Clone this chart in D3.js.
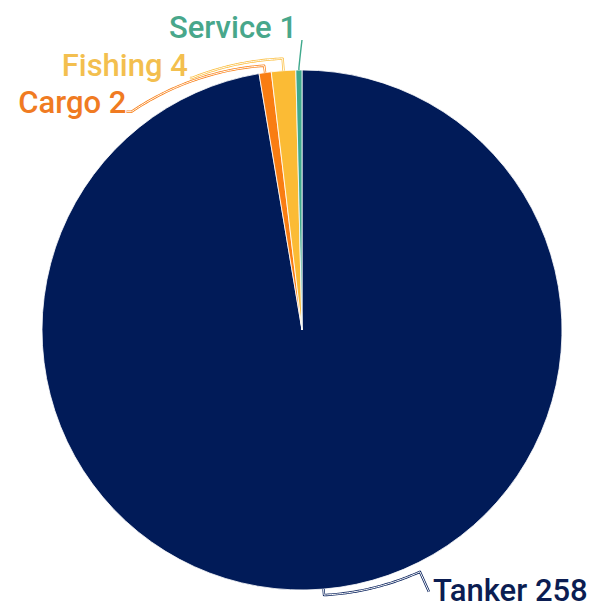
<!DOCTYPE html>
<html>
<head>
<meta charset="utf-8">
<script src="https://cdn.jsdelivr.net/npm/d3@7"></script>
<style>
  body { margin: 0; background: #fff; }
  text { font-family: Roboto, "Noto Sans", sans-serif; font-weight: 500; }
</style>
</head>
<body>
<div id="chart"></div>
<script>
// categories and counts, in clockwise order from 12 o'clock
const categories = ["Tanker", "Cargo", "Fishing", "Service"];
const counts = [258, 2, 4, 1];
const sliceColors = ["#011b58", "#f97d12", "#fbbb35", "#3fa98c"];
const textColors = ["#0b1d52", "#f07b22", "#f3bf4f", "#48a78b"];

// leader line layout (degrees from top, radii in px)
const leaders = {
  Tanker:  { r1: 266, endAngle: 154, r2: 269, tail: [9, 20],  anchor: "start", tx: 4,  ty: 9 },
  Cargo:   { r1: 267, endAngle: 322, r2: 277, tail: [-5, 0],  anchor: "end",   tx: 0,  ty: 1 },
  Fishing: { r1: 272, endAngle: 336.4, r2: 275, tail: [-2, 0], anchor: "end",  tx: -2, ty: -2 },
  Service: { r1: 262, endAngle: 360, r2: 290, tail: [0, 0],   anchor: "end",   tx: -5, ty: -2 }
};

const width = 595, height = 610;
const cx = 302, cy = 330, radius = 260;

const svg = d3.select("#chart")
  .append("svg")
    .attr("width", width)
    .attr("height", height);

const g = svg.append("g")
    .attr("transform", "translate(" + cx + "," + cy + ")");

const data = categories.map((c, i) => ({ name: c, value: counts[i], i: i }));

const pie = d3.pie().sort(null).value(d => d.value);
const arc = d3.arc().innerRadius(0).outerRadius(radius);
const arcs = pie(data);

g.selectAll("path.slice")
  .data(arcs)
  .enter()
  .append("path")
    .attr("class", "slice")
    .attr("d", arc)
    .attr("fill", d => sliceColors[d.data.i])
    .attr("stroke", "#fff")
    .attr("stroke-width", 0.8);

const rad = Math.PI / 180;
function polar(r, a) { return [r * Math.sin(a), -r * Math.cos(a)]; }

arcs.forEach(d => {
  const L = leaders[d.data.name];
  const a = (d.startAngle + d.endAngle) / 2;
  const b = L.endAngle * rad;
  const pts = [polar(radius, a)];
  const n = 40;
  for (let k = 0; k <= n; k++) {
    const t = k / n;
    pts.push(polar(L.r1 + (L.r2 - L.r1) * t, a + (b - a) * t));
  }
  const last = pts[pts.length - 1];
  const end = [last[0] + L.tail[0], last[1] + L.tail[1]];
  pts.push(end);

  const line = d3.line();
  g.append("path")
    .attr("d", line(pts))
    .attr("fill", "none")
    .attr("stroke", sliceColors[d.data.i])
    .attr("stroke-width", d.data.name === "Service" ? 1.4 : 2.4)
    .attr("stroke-linejoin", "round");
  if (d.data.name !== "Service") {
    g.append("path")
      .attr("d", line(pts))
      .attr("fill", "none")
      .attr("stroke", "#fff")
      .attr("stroke-width", 1)
      .attr("stroke-linejoin", "round");
  }

  g.append("text")
    .attr("x", end[0] + L.tx)
    .attr("y", end[1] + L.ty)
    .attr("text-anchor", L.anchor)
    .attr("fill", textColors[d.data.i])
    .attr("font-size", 31)
    .text(d.data.name + " " + d.data.value);
});
</script>
</body>
</html>
